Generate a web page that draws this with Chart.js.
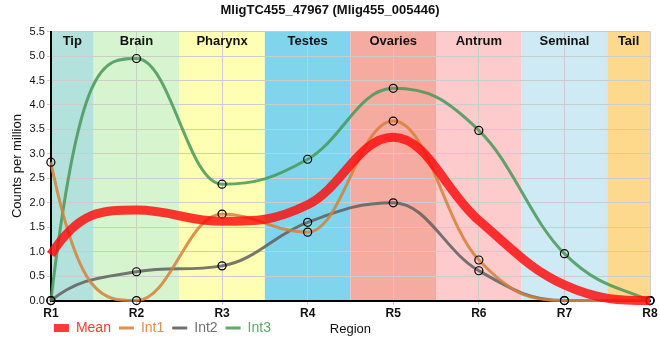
<!DOCTYPE html>
<html>
<head>
<meta charset="utf-8">
<script src="https://cdn.jsdelivr.net/npm/chart.js@4/dist/chart.umd.min.js"></script>
<style>
  html, body { margin: 0; padding: 0; background: #fff; }
  #wrap { width: 660px; height: 360px; }
</style>
</head>
<body>
<div id="wrap"><canvas id="chart" width="660" height="360"></canvas></div>
<script>
const regions = ['R1', 'R2', 'R3', 'R4', 'R5', 'R6', 'R7', 'R8'];
const meanValues = [0.94, 1.85, 1.62, 1.96, 3.34, 1.64, 0.32, 0];
const int1Values = [2.83, 0, 1.77, 1.40, 3.67, 0.83, 0, 0];
const int2Values = [0, 0.59, 0.71, 1.60, 2.00, 0.61, 0, 0];
const int3Values = [0, 4.95, 2.38, 2.89, 4.34, 3.48, 0.96, 0];
const yTicks = [0, 0.5, 1, 1.5, 2, 2.5, 3, 3.5, 4, 4.5, 5, 5.5];

// tissue bands, one per region position
const bandNames = ['Tip', 'Brain', 'Pharynx', 'Testes', 'Ovaries', 'Antrum', 'Seminal', 'Tail'];
const bandColors = ['#b3e2dd', '#d6f5cf', '#ffffb3', '#80d5ec', '#f5ab9f', '#fdcbcc', '#cdeaf5', '#fdd98d'];

const FONT = '"Liberation Sans", Arial, sans-serif';

// smooth curve with flat extremes: control points 0.4 of the gap away,
// kept between neighbouring y values so there is no false peak
function setSplineControls(points) {
    const s = 1.5, denom = s + 1;
    const n = points.length;
    for (let i = 1; i < n - 1; i++) {
        const p = points[i];
        const last = points[i - 1], next = points[i + 1];
        const lx = (s * p.x + last.x) / denom;
        let ly = (s * p.y + last.y) / denom;
        const rx = (s * p.x + next.x) / denom;
        let ry = (s * p.y + next.y) / denom;
        let corr = 0;
        if (rx !== lx) {
            corr = ((ry - ly) * (rx - p.x)) / (rx - lx) + p.y - ry;
        }
        ly += corr;
        ry += corr;
        if (ly > last.y && ly > p.y) {
            ly = Math.max(last.y, p.y);
            ry = 2 * p.y - ly;
        } else if (ly < last.y && ly < p.y) {
            ly = Math.min(last.y, p.y);
            ry = 2 * p.y - ly;
        }
        if (ry > next.y && ry > p.y) {
            ry = Math.max(next.y, p.y);
            ly = 2 * p.y - ry;
        } else if (ry < next.y && ry < p.y) {
            ry = Math.min(next.y, p.y);
            ly = 2 * p.y - ry;
        }
        p.cp1x = lx; p.cp1y = ly;
        p.cp2x = rx; p.cp2y = ry;
    }
    // ends leave steeply towards the neighbour's control level
    const first = points[0], second = points[1];
    first.cp1x = first.x; first.cp1y = first.y;
    first.cp2x = first.x + (second.x - first.x) / 3;
    first.cp2y = n > 2 ? second.cp1y : second.y;
    const lastP = points[n - 1], prev = points[n - 2];
    lastP.cp2x = lastP.x; lastP.cp2y = lastP.y;
    lastP.cp1x = lastP.x - (lastP.x - prev.x) / 3;
    lastP.cp1y = n > 2 ? prev.cp2y : prev.y;
    if (n === 2) {
        second.cp2x = second.x; second.cp2y = second.y;
    }
}

const splinePlugin = {
    id: 'spline',
    beforeDatasetsDraw(chart) {
        chart.getSortedVisibleDatasetMetas().forEach(meta => {
            setSplineControls(meta.data);
            meta.dataset._pointsUpdated = true;
        });
    }
};

const bandsPlugin = {
    id: 'bands',
    afterLayout(chart) {
        // pull the legend row up closer to the tick labels
        const lg = chart.legend;
        lg.top -= 10;
        lg.bottom -= 10;
        lg.left -= 5;
        lg.right -= 5;
    },
    beforeDraw(chart) {
        const { ctx, chartArea } = chart;
        const x = chart.scales.x;
        ctx.save();
        bandNames.forEach((name, i) => {
            const left = Math.max(chartArea.left, x.getPixelForValue(i - 0.5));
            const right = Math.min(chartArea.right, x.getPixelForValue(i + 0.5));
            ctx.fillStyle = bandColors[i];
            ctx.fillRect(left, chartArea.top, right - left, chartArea.bottom - chartArea.top);
        });
        ctx.restore();
    },
    afterDatasetsDraw(chart) {
        const { ctx, chartArea } = chart;
        const x = chart.scales.x;
        ctx.save();
        ctx.font = 'bold 13px ' + FONT;
        ctx.fillStyle = '#111';
        ctx.textAlign = 'center';
        ctx.textBaseline = 'middle';
        bandNames.forEach((name, i) => {
            const left = Math.max(chartArea.left, x.getPixelForValue(i - 0.5));
            const right = Math.min(chartArea.right, x.getPixelForValue(i + 0.5));
            ctx.fillText(name, (left + right) / 2, chartArea.top + 10);
        });
        ctx.restore();
    },
    afterDraw(chart) {
        // x axis title sits on the legend row
        const { ctx, chartArea } = chart;
        const lg = chart.legend;
        const y = lg.legendHitBoxes.length ? lg.legendHitBoxes[0].top + lg.legendHitBoxes[0].height / 2 : chartArea.bottom + 26;
        ctx.save();
        ctx.font = '13px ' + FONT;
        ctx.fillStyle = '#111';
        ctx.textAlign = 'center';
        ctx.textBaseline = 'middle';
        ctx.fillText('Region', (chartArea.left + chartArea.right) / 2, y + 1);
        ctx.restore();
    }
};

function intSet(label, data, color) {
    return {
        label: label,
        data: data,
        borderColor: color,
        backgroundColor: 'rgba(0,0,0,0)',
        borderWidth: 3,
        tension: 0.4,
        pointRadius: 4,
        pointBorderWidth: 1.2,
        pointBorderColor: '#000',
        pointBackgroundColor: 'rgba(0,0,0,0)',
        clip: false
    };
}

const legendColors = ['#ff3838', '#e09050', '#707070', '#5fa86c'];

new Chart(document.getElementById('chart'), {
    type: 'line',
    data: {
        labels: regions,
        datasets: [{
            label: 'Mean',
            data: meanValues,
            borderColor: 'rgba(255, 10, 10, 0.82)',
            backgroundColor: 'rgba(0,0,0,0)',
            borderWidth: 9,
            tension: 0.4,
            pointRadius: 0,
            clip: false
        },
            intSet('Int1', int1Values, 'rgba(214, 128, 56, 0.85)'),
            intSet('Int2', int2Values, 'rgba(95, 95, 95, 0.85)'),
            intSet('Int3', int3Values, 'rgba(72, 152, 88, 0.85)')
        ]
    },
    options: {
        responsive: false,
        animation: false,
        layout: { padding: { left: 10, right: 10, top: 0, bottom: 5 } },
        plugins: {
            title: {
                display: true,
                text: 'MligTC455_47967 (Mlig455_005446)',
                color: '#111',
                font: { family: FONT, size: 13, weight: 'bold' },
                padding: { top: 3, bottom: 13 }
            },
            legend: {
                position: 'bottom',
                align: 'start',
                fullSize: false,
                labels: {
                    usePointStyle: true,
                    pointStyleWidth: 15,
                    boxHeight: 13,
                    padding: 8,
                    font: { family: FONT, size: 14 },
                    generateLabels(chart) {
                        const items = Chart.defaults.plugins.legend.labels.generateLabels(chart);
                        items.forEach((it, i) => {
                            it.pointStyle = 'line';
                            it.lineWidth = i === 0 ? 8 : 3;
                            it.fontColor = legendColors[i];
                            it.strokeStyle = legendColors[i];
                        });
                        return items;
                    }
                }
            },
            tooltip: { enabled: false }
        },
        scales: {
            x: {
                offset: false,
                grid: { color: '#cccccc', tickLength: 4 },
                border: { color: '#000', width: 2 },
                ticks: { color: '#111', padding: 2, font: { family: FONT, size: 12, weight: 'bold' } }
            },
            y: {
                min: 0,
                max: 5.5,
                afterBuildTicks(axis) {
                    axis.ticks = yTicks.map(v => ({ value: v }));
                },
                grid: { color: '#cccccc', tickLength: 4 },
                border: { color: '#000', width: 2 },
                ticks: {
                    color: '#111',
                    padding: 2,
                    font: { family: FONT, size: 11 },
                    callback: v => Number(v).toFixed(1)
                },
                title: {
                    display: true,
                    text: 'Counts per million',
                    color: '#111',
                    font: { family: FONT, size: 13 },
                    padding: { top: 0, bottom: 2 }
                }
            }
        }
    },
    plugins: [splinePlugin, bandsPlugin]
});
</script>
</body>
</html>
